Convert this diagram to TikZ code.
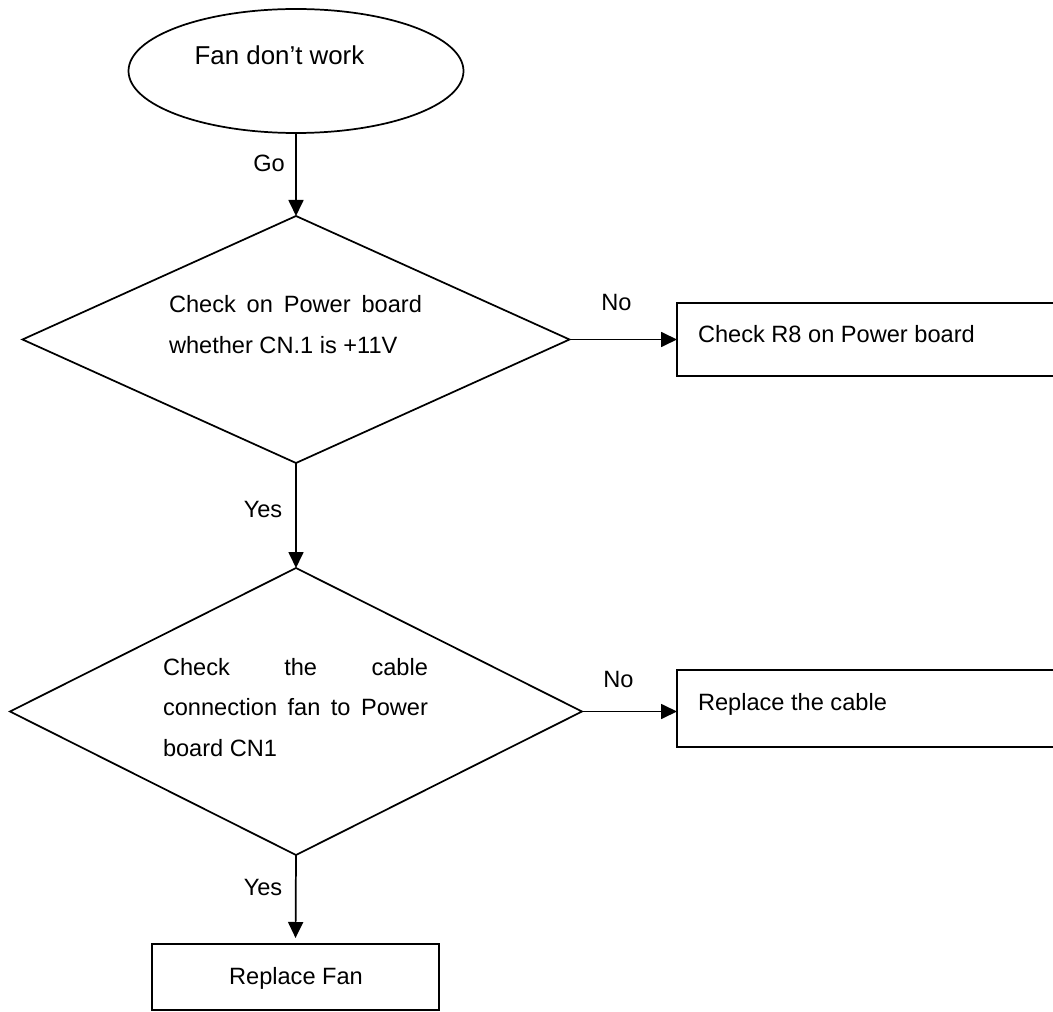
\documentclass[tikz,border=0pt]{standalone}
\usepackage{fontspec}
\setmainfont{Liberation Sans}
\usetikzlibrary{shapes.geometric,arrows.meta}
\begin{document}
\begin{tikzpicture}[x=0.75pt,y=-0.75pt,
  shp/.style={draw, line width=1.3pt, inner sep=0pt, outer sep=0pt},
  term/.style={shp, ellipse, minimum width=251.25pt, minimum height=93pt},
  dec/.style={shp, diamond},
  proc/.style={shp, rectangle},
  lbl/.style={inner sep=0pt, outer sep=0pt, font=\fontsize{17.7}{21}\selectfont},
  conn/.style={-{Triangle[length=12pt,width=11.25pt]}, line width=1.3pt}]
\useasboundingbox (0,0) rectangle (1053,1012);
\clip (0,0) rectangle (1053,1012);

% shapes
\node[term] (start) at (296,71) {};
\node[dec, minimum width=410.25pt, minimum height=185.25pt] (d1) at (296,339.5) {};
\node[dec, minimum width=429pt, minimum height=215.25pt] (d2) at (296,711.5) {};
\node[proc, minimum width=317.25pt, minimum height=54.75pt] (b1) at (888.5,339.5) {};
\node[proc, minimum width=317.25pt, minimum height=57.75pt] (b2) at (888.5,708.5) {};
\node[proc, minimum width=215.25pt, minimum height=49.5pt] (b3) at (295.5,977) {};

% texts
\node[lbl, anchor=base, font=\fontsize{19.4}{23}\selectfont] (t0) at (279.5,65) {Fan don’t work};
\node[lbl, anchor=base west] (t1a) at (169,313) {\makebox[189.75pt][s]{Check on Power board}};
\node[lbl, anchor=base west] (t1b) at (169,354) {whether CN.1 is +11V};
\node[lbl, anchor=base west] (t2a) at (163,675) {\makebox[198.75pt][s]{Check the cable}};
\node[lbl, anchor=base west] (t2b) at (163,715) {\makebox[198.75pt][s]{connection fan to Power}};
\node[lbl, anchor=base west] (t2c) at (163,756) {board CN1};
\node[lbl, anchor=base west] (tb1) at (698,343) {Check R8 on Power board};
\node[lbl, anchor=base west] (tb2) at (698,710) {Replace the cable};
\node[lbl, anchor=base] (tb3) at (296,984) {Replace Fan};

% connector labels
\node[lbl, anchor=base] (go) at (269,172) {Go};
\node[lbl, anchor=base] (yes1) at (263,517) {Yes};
\node[lbl, anchor=base] (yes2) at (263,895) {Yes};
\node[lbl, anchor=base] (no1) at (616.5,311) {No};
\node[lbl, anchor=base] (no2) at (618.5,687) {No};

% connectors
\draw[conn] (start.south) -- (d1.north);
\draw[conn] (d1.east) -- (d1.east -| b1.west);
\draw[conn] (d1.south) -- (d2.north);
\draw[conn] (d2.east) -- (d2.east -| b2.west);
\draw[conn, shorten >=4.5pt] (d2.south) -- (b3.north);
\end{tikzpicture}
\end{document}
